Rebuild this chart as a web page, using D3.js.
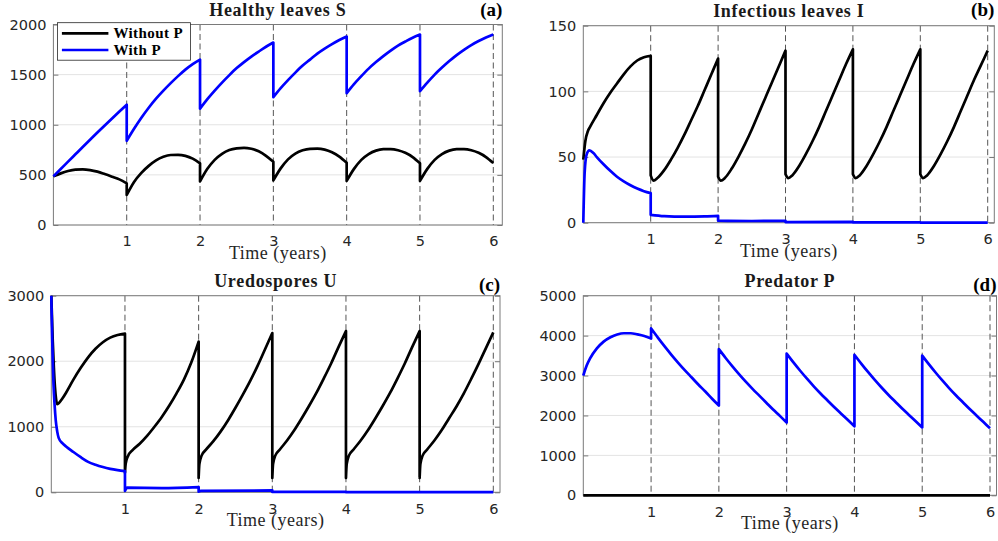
<!DOCTYPE html>
<html>
<head>
<meta charset="utf-8">
<script src="https://cdn.jsdelivr.net/npm/d3@7"></script>
<style>
  body { margin: 0; background: #fff; }
  svg { display: block; }
</style>
</head>
<body>
<svg id="chart" width="998" height="541"></svg>
<script>
// Impulsive model, with and without predator P, over 6 years
// each series is [time, value]; a repeated time means a jump at the pulse

const pulseYears = [1, 2, 3, 4, 5, 6];

const healthyTicks = [0, 500, 1000, 1500, 2000];
const infectiousTicks = [0, 50, 100, 150];
const uredosporesTicks = [0, 1000, 2000, 3000];
const predatorTicks = [0, 1000, 2000, 3000, 4000, 5000];

const healthyWithoutP = [
  [0, 485], [0.1, 515], [0.2, 538], [0.3, 552], [0.4, 555], [0.5, 548], [0.6, 532], [0.7, 508], [0.8, 482], [0.9, 455], [1, 415],
  [1, 300], [1.1, 430], [1.2, 520], [1.3, 590], [1.4, 645], [1.5, 680], [1.6, 698], [1.7, 700], [1.8, 690], [1.9, 662], [2, 615],
  [2, 435], [2.1, 560], [2.2, 650], [2.3, 710], [2.4, 748], [2.5, 765], [2.6, 770], [2.7, 760], [2.8, 735], [2.9, 690], [3, 630],
  [3, 445], [3.1, 565], [3.2, 655], [3.3, 712], [3.4, 745], [3.5, 760], [3.6, 762], [3.7, 752], [3.8, 725], [3.9, 682], [4, 620],
  [4, 440], [4.1, 560], [4.2, 650], [4.3, 708], [4.4, 742], [4.5, 756], [4.6, 757], [4.7, 746], [4.8, 720], [4.9, 678], [5, 615],
  [5, 440], [5.1, 560], [5.2, 650], [5.3, 708], [5.4, 742], [5.5, 756], [5.6, 757], [5.7, 746], [5.8, 720], [5.9, 678], [6, 618]
];

const healthyWithP = [
  [0, 485], [0.1, 558], [0.2, 632], [0.3, 705], [0.4, 778], [0.5, 850], [0.6, 922], [0.7, 993], [0.8, 1063], [0.9, 1132], [1, 1200],
  [1, 840], [1.1, 960], [1.2, 1070], [1.3, 1170], [1.4, 1260], [1.5, 1340], [1.6, 1415], [1.7, 1485], [1.8, 1550], [1.9, 1605], [2, 1650],
  [2, 1160], [2.1, 1255], [2.2, 1340], [2.3, 1420], [2.4, 1495], [2.5, 1565], [2.6, 1625], [2.7, 1680], [2.8, 1730], [2.9, 1778], [3, 1820],
  [3, 1275], [3.1, 1365], [3.2, 1445], [3.3, 1520], [3.4, 1590], [3.5, 1650], [3.6, 1710], [3.7, 1760], [3.8, 1805], [3.9, 1845], [4, 1880],
  [4, 1315], [4.1, 1405], [4.2, 1485], [4.3, 1560], [4.4, 1625], [4.5, 1685], [4.6, 1740], [4.7, 1790], [4.8, 1830], [4.9, 1868], [5, 1900],
  [5, 1335], [5.1, 1420], [5.2, 1500], [5.3, 1570], [5.4, 1635], [5.5, 1695], [5.6, 1748], [5.7, 1795], [5.8, 1835], [5.9, 1870], [6, 1900]
];

const infectiousWithoutP = [
  [0, 48], [0.03, 62], [0.07, 70], [0.1, 73], [0.2, 82], [0.3, 91], [0.4, 99], [0.5, 106], [0.6, 113], [0.7, 119], [0.8, 123.5], [0.9, 126], [1, 127],
  [1, 36], [1.04, 32], [1.1, 34], [1.2, 40], [1.3, 48], [1.4, 57], [1.5, 67], [1.6, 78], [1.7, 89], [1.8, 101], [1.9, 113], [2, 125],
  [2, 35], [2.04, 32], [2.1, 34], [2.2, 41], [2.3, 50], [2.4, 60], [2.5, 71], [2.6, 83], [2.7, 95], [2.8, 107], [2.9, 119], [3, 131],
  [3, 37], [3.04, 34], [3.1, 36], [3.2, 43], [3.3, 52], [3.4, 62], [3.5, 73], [3.6, 85], [3.7, 97], [3.8, 109], [3.9, 121], [4, 132],
  [4, 37], [4.04, 34], [4.1, 36], [4.2, 43], [4.3, 52], [4.4, 62], [4.5, 73], [4.6, 85], [4.7, 97], [4.8, 109], [4.9, 121], [5, 132],
  [5, 37], [5.04, 34], [5.1, 36], [5.2, 43], [5.3, 52], [5.4, 62], [5.5, 73], [5.6, 85], [5.7, 97], [5.8, 109], [5.9, 120], [6, 131]
];

const infectiousWithP = [
  [0, 0], [0.02, 38], [0.05, 52], [0.09, 55], [0.15, 53], [0.2, 50], [0.3, 44.5], [0.4, 39.5], [0.5, 35], [0.6, 31.5], [0.7, 28.5], [0.8, 26], [0.9, 24], [1, 22.5],
  [1, 6], [1.2, 5], [1.5, 4.6], [1.8, 4.8], [2, 5.2],
  [2, 1.5], [2.5, 1.3], [3, 1.5],
  [3, 0.5], [4, 0.6],
  [4, 0.2], [5, 0.2],
  [5, 0.1], [6, 0.1]
];

const uredosporesWithoutP = [
  [0, 3000], [0.01, 2650], [0.02, 2300], [0.035, 1900], [0.05, 1600], [0.065, 1420], [0.08, 1345], [0.1, 1360], [0.15, 1430], [0.2, 1520], [0.3, 1720], [0.4, 1900], [0.5, 2060], [0.6, 2190], [0.7, 2290], [0.8, 2360], [0.9, 2400], [1, 2420],
  [1, 300], [1.01, 440], [1.04, 550], [1.1, 640], [1.2, 740], [1.3, 860], [1.4, 1000], [1.5, 1150], [1.6, 1320], [1.7, 1510], [1.8, 1720], [1.9, 1980], [2, 2300],
  [2, 220], [2.01, 430], [2.04, 560], [2.1, 650], [2.2, 780], [2.3, 930], [2.4, 1100], [2.5, 1290], [2.6, 1490], [2.7, 1700], [2.8, 1930], [2.9, 2180], [3, 2430],
  [3, 220], [3.01, 430], [3.04, 560], [3.1, 650], [3.2, 790], [3.3, 950], [3.4, 1130], [3.5, 1320], [3.6, 1520], [3.7, 1740], [3.8, 1970], [3.9, 2220], [4, 2460],
  [4, 220], [4.01, 430], [4.04, 560], [4.1, 650], [4.2, 790], [4.3, 950], [4.4, 1130], [4.5, 1320], [4.6, 1520], [4.7, 1740], [4.8, 1970], [4.9, 2220], [5, 2460],
  [5, 220], [5.01, 430], [5.04, 560], [5.1, 650], [5.2, 790], [5.3, 950], [5.4, 1130], [5.5, 1310], [5.6, 1510], [5.7, 1730], [5.8, 1960], [5.9, 2200], [6, 2440]
];

const uredosporesWithP = [
  [0, 3000], [0.01, 2450], [0.02, 2000], [0.03, 1650], [0.045, 1330], [0.06, 1100], [0.08, 930], [0.1, 830], [0.15, 750], [0.2, 700], [0.3, 615], [0.4, 535], [0.5, 465], [0.6, 420], [0.7, 385], [0.8, 358], [0.9, 338], [1, 322],
  [1, 20], [1.03, 70], [1.5, 65], [2, 80],
  [2, 10], [2.03, 22], [3, 28],
  [3, 5], [4, 8],
  [4, 2], [6, 2]
];

const predatorWithoutP = [[0, 0], [6, 0]];

const predatorWithP = [
  [0, 3000], [0.05, 3250], [0.1, 3430], [0.2, 3680], [0.3, 3850], [0.4, 3960], [0.5, 4030], [0.6, 4060], [0.7, 4060], [0.8, 4030], [0.9, 3990], [1, 3930],
  [1, 4180], [1.1, 3950], [1.2, 3730], [1.3, 3520], [1.4, 3320], [1.5, 3130], [1.6, 2950], [1.7, 2770], [1.8, 2600], [1.9, 2420], [2, 2250],
  [2, 3660], [2.1, 3440], [2.2, 3230], [2.3, 3030], [2.4, 2840], [2.5, 2660], [2.6, 2490], [2.7, 2320], [2.8, 2150], [2.9, 1990], [3, 1820],
  [3, 3550], [3.1, 3330], [3.2, 3120], [3.3, 2920], [3.4, 2730], [3.5, 2550], [3.6, 2380], [3.7, 2210], [3.8, 2050], [3.9, 1890], [4, 1730],
  [4, 3520], [4.1, 3300], [4.2, 3090], [4.3, 2890], [4.4, 2700], [4.5, 2520], [4.6, 2350], [4.7, 2180], [4.8, 2020], [4.9, 1860], [5, 1700],
  [5, 3500], [5.1, 3280], [5.2, 3070], [5.3, 2870], [5.4, 2680], [5.5, 2500], [5.6, 2330], [5.7, 2160], [5.8, 2000], [5.9, 1840], [6, 1680]
];

const legendLabels = ['Without P', 'With P'];
const colors = ['#000000', '#0000ff'];

const panels = [
  { id: 'a', title: 'Healthy leaves S', ticks: healthyTicks, series: [healthyWithoutP, healthyWithP],
    l: 53.4, x6: 493.3, r: 502.3, t: 24.5, b: 225, letterY: 16, legend: true },
  { id: 'b', title: 'Infectious leaves I', ticks: infectiousTicks, series: [infectiousWithoutP, infectiousWithP],
    l: 583.3, x6: 987.7, r: 994.3, t: 25.7, b: 222.7, letterY: 16 },
  { id: 'c', title: 'Uredospores U', ticks: uredosporesTicks, series: [uredosporesWithoutP, uredosporesWithP],
    l: 51.3, x6: 493.3, r: 500, t: 295.7, b: 492.3, letterY: 290.5 },
  { id: 'd', title: 'Predator P', ticks: predatorTicks, series: [predatorWithoutP, predatorWithP],
    l: 583.3, x6: 990, r: 996.5, t: 295.7, b: 495.3, letterY: 290.5 }
];

const svg = d3.select('#chart');
const serif = '"Liberation Serif", "DejaVu Serif", serif';
const sans = '"DejaVu Sans", sans-serif';

// split at repeated times so each stretch is smoothed on its own
function splitAtJumps(points) {
  const segs = [[]];
  points.forEach((p, i) => {
    if (i > 0 && p[0] === points[i - 1][0]) segs.push([]);
    segs[segs.length - 1].push(p);
  });
  return segs;
}

panels.forEach(p => {
  const x = d3.scaleLinear().domain([0, 6]).range([p.l, p.x6]);
  const yMax = p.ticks[p.ticks.length - 1];
  const y = d3.scaleLinear().domain([0, yMax]).range([p.b, p.t]);
  const g = svg.append('g');

  // horizontal grid
  g.append('g')
    .selectAll('line')
    .data(p.ticks)
    .enter().append('line')
    .attr('x1', p.l).attr('x2', p.r)
    .attr('y1', d => y(d)).attr('y2', d => y(d))
    .attr('stroke', '#e3e3e3')
    .attr('stroke-width', 1);

  // pulse lines
  g.append('g')
    .selectAll('line')
    .data(pulseYears)
    .enter().append('line')
    .attr('x1', d => x(d)).attr('x2', d => x(d))
    .attr('y1', p.t).attr('y2', p.b)
    .attr('stroke', '#555')
    .attr('stroke-width', 1)
    .attr('stroke-dasharray', '6,3.5');

  // axes: left with labels, right ticks only, bottom labels
  const left = g.append('g')
    .attr('transform', `translate(${p.l},0)`)
    .call(d3.axisLeft(y).tickValues(p.ticks).tickSize(-5).tickPadding(7).tickFormat(d3.format('d')));
  const right = g.append('g')
    .attr('transform', `translate(${p.r},0)`)
    .call(d3.axisRight(y).tickValues(p.ticks).tickSize(-5).tickFormat(''));
  const bottom = g.append('g')
    .attr('transform', `translate(0,${p.b})`)
    .call(d3.axisBottom(x).tickValues(pulseYears).tickSize(0).tickPadding(11).tickFormat(d3.format('d')));

  [left, right, bottom].forEach(ax => {
    ax.select('.domain').remove();
    ax.selectAll('line').attr('stroke', '#777');
    ax.selectAll('text')
      .attr('fill', '#262626')
      .style('font-family', sans)
      .style('font-size', '14.5px');
  });

  // box
  g.append('rect')
    .attr('x', p.l).attr('y', p.t)
    .attr('width', p.r - p.l).attr('height', p.b - p.t)
    .attr('fill', 'none')
    .attr('stroke', '#7a7a7a')
    .attr('stroke-width', 1);

  // data lines
  const clipId = 'clip-' + p.id;
  svg.append('clipPath').attr('id', clipId)
    .append('rect')
    .attr('x', p.l - 2).attr('y', p.t - 2)
    .attr('width', p.r - p.l + 4).attr('height', p.b - p.t + 4);

  const line = d3.line()
    .x(d => x(d[0]))
    .y(d => y(d[1]))
    .curve(d3.curveMonotoneX);

  g.append('g')
    .attr('clip-path', `url(#${clipId})`)
    .selectAll('path')
    .data(p.series)
    .enter().append('path')
    .attr('d', s => splitAtJumps(s).map((seg, i) => {
      const d = line(seg);
      return i ? 'L' + d.slice(1) : d;
    }).join(''))
    .attr('fill', 'none')
    .attr('stroke', (s, i) => colors[i])
    .attr('stroke-width', 2.7)
    .attr('stroke-linejoin', 'round');

  // title, panel letter, x label
  const mid = (p.l + p.r) / 2;
  g.append('text')
    .attr('x', mid).attr('y', p.t - 8.5)
    .attr('text-anchor', 'middle')
    .style('font-family', serif).style('font-weight', 'bold').style('font-size', '18px')
    .style('letter-spacing', '0.7px')
    .attr('fill', '#1a1a1a')
    .text(p.title);

  g.append('text')
    .attr('x', p.r).attr('y', p.letterY)
    .attr('text-anchor', 'end')
    .style('font-family', serif).style('font-weight', 'bold').style('font-size', '19px')
    .attr('fill', '#000')
    .text(`(${p.id})`);

  g.append('text')
    .attr('x', mid).attr('y', p.b + 34)
    .attr('text-anchor', 'middle')
    .style('font-family', serif).style('font-size', '18px')
    .style('letter-spacing', '0.5px')
    .attr('fill', '#262626')
    .text('Time (years)');

  if (p.legend) {
    const lg = g.append('g').attr('transform', `translate(${p.l + 4},${p.t - 1.8})`);
    lg.append('rect')
      .attr('width', 133).attr('height', 37.5)
      .attr('fill', '#fff')
      .attr('stroke', '#262626')
      .attr('stroke-width', 0.8);
    legendLabels.forEach((label, i) => {
      const cy = 10.6 + i * 16.7;
      lg.append('line')
        .attr('x1', 4.5).attr('x2', 51)
        .attr('y1', cy).attr('y2', cy)
        .attr('stroke', colors[i])
        .attr('stroke-width', 2.7);
      lg.append('text')
        .attr('x', 56).attr('y', cy + 5)
        .style('font-family', serif).style('font-weight', 'bold').style('font-size', '15px')
        .style('letter-spacing', '0.4px')
        .attr('fill', '#000')
        .text(label);
    });
  }
});
</script>
</body>
</html>
